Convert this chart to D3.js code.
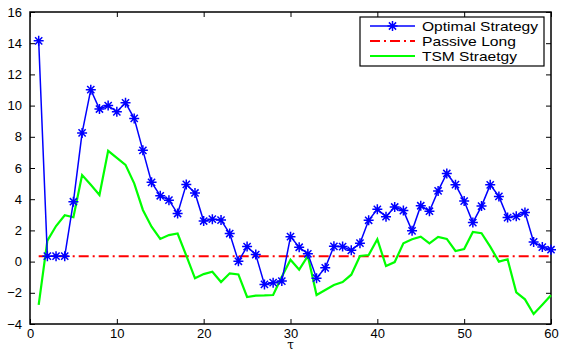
<!DOCTYPE html>
<html>
<head>
<meta charset="utf-8">
<script src="https://cdn.jsdelivr.net/npm/d3@7"></script>
<style>
  body { margin: 0; background: #fff; }
  text { font-family: "Liberation Sans", Arial, sans-serif; }
</style>
</head>
<body>
<div id="chart"></div>
<script>
// tau = 1..60
const tau = d3.range(1, 61);

const optimal = [14.15, 0.35, 0.35, 0.35, 3.84, 8.25, 11.02, 9.78, 10.0, 9.6,
  10.18, 9.18, 7.13, 5.08, 4.22, 3.94, 3.08, 4.95, 4.4, 2.6,
  2.72, 2.66, 1.8, 0.02, 0.96, 0.45, -1.46, -1.35, -1.25, 1.6,
  0.92, 0.5, -1.06, -0.4, 0.98, 0.96, 0.72, 1.18, 2.65, 3.35,
  2.88, 3.5, 3.27, 1.97, 3.58, 3.23, 4.53, 5.65, 4.93, 3.88,
  2.5, 3.56, 4.92, 4.18, 2.82, 2.9, 3.15, 1.26, 0.93, 0.76];

const passive = tau.map(() => 0.35);

const tsm = [-2.78, 1.34, 2.28, 2.97, 2.84, 5.55, 4.92, 4.27, 7.1, 6.65,
  6.2, 5.02, 3.31, 2.24, 1.45, 1.7, 1.8, 0.38, -1.07, -0.8,
  -0.65, -1.31, -0.75, -0.82, -2.27, -2.18, -2.17, -2.14, -0.97, 0.12,
  -0.52, 0.36, -2.14, -1.82, -1.5, -1.31, -0.84, 0.36, 0.42, 1.43,
  -0.28, -0.03, 1.17, 1.43, 1.6, 1.17, 1.58, 1.45, 0.68, 0.81,
  1.9, 1.82, 0.96, 0.0, 0.15, -1.97, -2.42, -3.36, -2.76, -2.16];

const xTicks = [0, 10, 20, 30, 40, 50, 60];
const yTicks = [-4, -2, 0, 2, 4, 6, 8, 10, 12, 14, 16];
const legendLabels = ["Optimal Strategy", "Passive Long", "TSM Straetgy"];
const legendWidths = [116, 94, 95]; // text is drawn a bit wide in the original

const width = 561, height = 353;
const margin = {top: 12, right: 10, bottom: 29, left: 30};
const innerW = width - margin.left - margin.right;
const innerH = height - margin.top - margin.bottom;

const svg = d3.select("#chart").append("svg")
    .attr("width", width)
    .attr("height", height);

const g = svg.append("g")
    .attr("transform", "translate(" + margin.left + "," + margin.top + ")");

const x = d3.scaleLinear().domain([0, 60]).range([0, innerW]);
const y = d3.scaleLinear().domain([-4, 16]).range([innerH, 0]);

// axes, matlab style: ticks point inward, box on all four sides
const tickLen = 5;
g.append("g")
    .attr("transform", "translate(0," + innerH + ")")
    .call(d3.axisBottom(x).tickValues(xTicks).tickSizeInner(-tickLen).tickSizeOuter(0).tickPadding(5))
    .call(a => a.select(".domain").remove());
g.append("g")
    .call(d3.axisTop(x).tickValues(xTicks).tickSizeInner(-tickLen).tickSizeOuter(0).tickFormat(""))
    .call(a => a.select(".domain").remove());
g.append("g")
    .call(d3.axisLeft(y).tickValues(yTicks).tickSizeInner(-tickLen).tickSizeOuter(0).tickPadding(8)
        .tickFormat(d => d < 0 ? "\u2212" + Math.abs(d) : d))
    .call(a => a.select(".domain").remove());
g.append("g")
    .attr("transform", "translate(" + innerW + ",0)")
    .call(d3.axisRight(y).tickValues(yTicks).tickSizeInner(-tickLen).tickSizeOuter(0).tickFormat(""))
    .call(a => a.select(".domain").remove());

g.selectAll(".tick text").attr("font-size", 13).attr("fill", "#000")
    .style("font-family", "'Liberation Sans', Arial, sans-serif");
g.selectAll(".tick line").attr("stroke", "#000");

g.append("rect")
    .attr("width", innerW).attr("height", innerH)
    .attr("fill", "none").attr("stroke", "#000").attr("stroke-width", 1.5);

const line = d3.line().x((d, i) => x(tau[i])).y(d => y(d));

// passive long
g.append("path").datum(passive)
    .attr("d", line).attr("fill", "none")
    .attr("stroke", "#ff0000").attr("stroke-width", 2)
    .attr("stroke-dasharray", "10,4,2,4");

// TSM
g.append("path").datum(tsm)
    .attr("d", line).attr("fill", "none")
    .attr("stroke", "#00ff00").attr("stroke-width", 2.2);

// optimal
g.append("path").datum(optimal)
    .attr("d", line).attr("fill", "none")
    .attr("stroke", "#0000ff").attr("stroke-width", 1.5);

// asterisk marker
function star(r) {
  const d = r * 0.72;
  return "M" + (-r) + ",0L" + r + ",0M0," + (-r) + "L0," + r +
    "M" + (-d) + "," + (-d) + "L" + d + "," + d +
    "M" + (-d) + "," + d + "L" + d + "," + (-d);
}

g.selectAll(".mk").data(optimal).enter().append("path")
    .attr("class", "mk")
    .attr("transform", (d, i) => "translate(" + x(tau[i]) + "," + y(d) + ")")
    .attr("d", star(5))
    .attr("stroke", "#0000ff").attr("stroke-width", 1.5).attr("fill", "none");

// legend
const lg = svg.append("g").attr("transform", "translate(360,17)");
lg.append("rect").attr("width", 184).attr("height", 49)
    .attr("fill", "#fff").attr("stroke", "#000").attr("stroke-width", 1.2);

const styles = [
  {stroke: "#0000ff", w: 1.5, dash: null},
  {stroke: "#ff0000", w: 2, dash: "10,4,2,4"},
  {stroke: "#00ff00", w: 2.2, dash: null}
];

legendLabels.forEach((lab, i) => {
  const yy = 9 + i * 15;
  lg.append("line").attr("x1", 10).attr("x2", 55).attr("y1", yy).attr("y2", yy)
    .attr("stroke", styles[i].stroke).attr("stroke-width", styles[i].w)
    .attr("stroke-dasharray", styles[i].dash);
  if (i === 0) {
    lg.append("path").attr("transform", "translate(32.5," + yy + ")")
      .attr("d", star(5)).attr("stroke", "#0000ff").attr("stroke-width", 1.5);
  }
  lg.append("text").attr("x", 62).attr("y", yy + 5)
    .attr("font-size", 13.5)
    .attr("textLength", legendWidths[i]).attr("lengthAdjust", "spacingAndGlyphs")
    .text(lab);
});

// x label
svg.append("text")
    .attr("x", margin.left + x(30)).attr("y", 349)
    .attr("text-anchor", "middle").attr("font-size", 12)
    .style("font-family", "'DejaVu Serif', serif")
    .text("\u03c4");
</script>
</body>
</html>
